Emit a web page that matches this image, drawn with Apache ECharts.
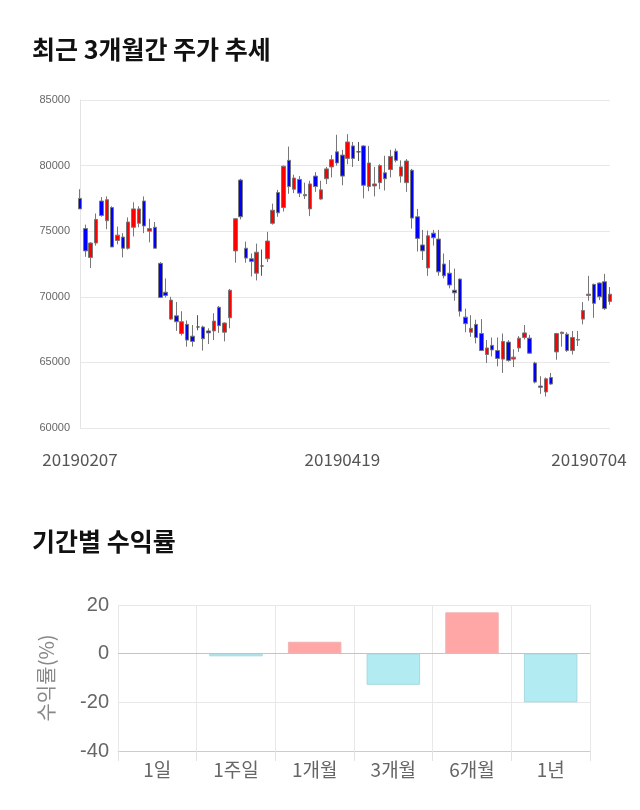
<!DOCTYPE html>
<html><head><meta charset="utf-8">
<script src="https://cdn.jsdelivr.net/npm/echarts@6/dist/echarts.min.js"></script>
<style>html,body{margin:0;padding:0;background:#fff}#c{width:640px;height:810px}</style>
</head><body><div id="c"></div>
<script>
const dates = ['20190207','20190211','20190212','20190213','20190214','20190215','20190218','20190219','20190220','20190221',
'20190222','20190225','20190226','20190227','20190228','20190304','20190305','20190306','20190307','20190308',
'20190311','20190312','20190313','20190314','20190315','20190318','20190319','20190320','20190321','20190322',
'20190325','20190326','20190327','20190328','20190329','20190401','20190402','20190403','20190404','20190405',
'20190408','20190409','20190410','20190411','20190412','20190415','20190416','20190417','20190418','20190419',
'20190422','20190423','20190424','20190425','20190426','20190429','20190430','20190503','20190507','20190508',
'20190509','20190510','20190513','20190514','20190515','20190516','20190517','20190520','20190521','20190522',
'20190523','20190524','20190527','20190528','20190529','20190530','20190531','20190603','20190604','20190605',
'20190607','20190610','20190611','20190612','20190613','20190614','20190617','20190618','20190619','20190620',
'20190621','20190624','20190625','20190626','20190627','20190628','20190701','20190702','20190703','20190704'];
const opens = [77500,75200,73000,74100,77300,75800,76800,74300,74550,73700,
75300,75600,77300,75000,75300,72550,70350,68300,68550,67200,
67900,67000,67700,67700,67400,67400,69200,67300,68400,73500,
78900,73700,72900,71800,72350,72900,75600,77950,76800,80400,
78200,78950,77700,76700,79200,77450,79000,79900,81050,80800,
80550,81500,81050,81500,78400,78450,78700,79450,79700,81100,
79200,78700,79650,76100,73950,72200,74850,74400,72500,71800,
70500,71350,68450,67300,67900,67200,65600,66300,65900,65250,
66550,65250,66100,66900,66850,64950,63200,62750,63850,65800,
67200,67150,65900,66750,68300,70100,70950,71050,71150,69650];
const closes = [76700,73500,74100,75900,76200,77400,73800,74700,73700,75700,
76700,76700,75400,75200,73700,69950,70100,69750,68100,68100,
66700,66600,67700,66800,67250,68150,67800,68000,70500,75950,
76100,72950,72700,73400,72350,74250,76600,76400,79950,78400,
79050,77900,77800,78600,78400,78150,79750,80450,80200,79200,
81800,80550,81050,78500,80200,78600,80000,79000,80700,80400,
79900,80350,76000,74450,73500,74650,74500,71900,71600,70900,
70300,68900,67950,67600,66900,65900,66100,65950,65300,66600,
65150,65400,66850,67250,65700,63500,63100,63750,63350,67200,
67300,65900,66900,66700,68950,70200,69500,70000,69100,70200];
const lows = [76700,73050,72200,73900,76100,75150,73800,74000,73000,73600,
74600,75300,74850,74150,73700,69900,69950,68250,67400,67050,
66200,66200,67450,65900,66400,66700,67250,66600,67600,72600,
75900,72600,71550,71250,71600,72650,75500,76100,76500,77850,
77900,77600,77450,76150,78000,77400,78600,79100,80000,78500,
80100,79900,80350,77500,78050,77650,78200,78100,79100,80250,
78700,78000,75200,73450,72800,71600,73900,71600,71400,70650,
69700,68500,67300,66950,66450,65900,64950,65450,64700,64200,
65050,64650,65800,66750,65650,63400,62600,62400,63300,65200,
66200,65800,65600,66250,67900,69700,68400,69750,69000,69400];
const highs = [78200,75500,74150,76350,77600,77650,76900,75350,74850,76050,
77200,76900,77650,75950,75700,72650,71400,70000,69600,68900,
68200,67850,68600,67800,67600,68750,69300,68050,70600,76000,
79000,74200,73300,74050,73600,74950,77100,78150,80000,81450,
79300,79200,78700,78850,79500,78850,79900,80800,82350,81200,
82400,81800,81800,81550,81500,79900,80100,80750,81200,81300,
80400,80500,79750,76700,75100,75050,75100,75100,73300,72800,
72150,71400,69100,68600,68250,68300,66700,66900,66900,67200,
66700,66000,67000,67850,67100,65050,63950,63850,64200,67250,
67350,67300,67400,67400,69600,71600,71000,71100,71750,70750];
const shownDates = ['20190207','20190419','20190704'];
const periods = ['1일','1주일','1개월','3개월','6개월','1년'];
const returns = [0, -1.1, 4.9, -12.8, 17.0, -20.0];

const candleData = dates.map((d, i) => [opens[i], closes[i], lows[i], highs[i]]);
const lastDate = shownDates[shownDates.length - 1];

const chart = echarts.init(document.getElementById('c'), null, {renderer: 'canvas'});
const KR = "'Noto Sans CJK KR', 'Noto Sans', sans-serif";
const LAT = "'Liberation Sans', Arial, sans-serif";
chart.setOption({
  animation: false,
  backgroundColor: '#fff',
  title: [
    {text: '최근 3개월간 주가 추세', left: 27, top: 32,
     textStyle: {fontSize: 25, fontWeight: 'bold', color: '#111', fontFamily: KR}},
    {text: '기간별 수익률', left: 27, top: 524,
     textStyle: {fontSize: 25, fontWeight: 'bold', color: '#111', fontFamily: KR}}
  ],
  grid: [
    {left: 80, right: 30, top: 100, height: 328},
    {left: 118, right: 50, top: 605, height: 146}
  ],
  xAxis: [
    {type: 'category', gridIndex: 0, data: dates, boundaryGap: false,
     axisLine: {show: false}, axisTick: {show: false}, splitLine: {show: false},
     axisLabel: {
       interval: (i, v) => shownDates.indexOf(v) >= 0,
       fontSize: 17, color: '#555', margin: 23, fontFamily: KR,
       formatter: v => v === lastDate ? '{r|' + v + '}' : v,
       rich: {r: {fontSize: 17, color: '#555', fontFamily: KR, padding: [0, 42, 0, 0]}}
     }},
    {type: 'category', gridIndex: 1, data: periods, boundaryGap: true,
     axisLine: {show: true, onZero: false, lineStyle: {color: '#ccc'}},
     axisTick: {show: true, length: 10, lineStyle: {color: '#e2e2e2'}},
     splitLine: {show: true, lineStyle: {color: '#e8e8e8'}},
     axisLabel: {fontSize: 19, color: '#666', margin: 9, fontFamily: KR}}
  ],
  yAxis: [
    {type: 'value', gridIndex: 0, min: 60000, max: 85000, interval: 5000,
     axisLine: {show: true, lineStyle: {color: '#e4e4e4'}}, axisTick: {show: false},
     splitLine: {lineStyle: {color: '#e8e8e8'}},
     axisLabel: {fontSize: 11, color: '#666', margin: 10, fontFamily: LAT, formatter: v => String(v)}},
    {type: 'value', gridIndex: 1, min: -40, max: 20, interval: 20,
     axisLine: {show: false}, axisTick: {show: false},
     splitLine: {lineStyle: {color: '#e8e8e8'}},
     axisLabel: {fontSize: 20, color: '#666', margin: 9, fontFamily: LAT},
     name: '수익률(%)', nameLocation: 'middle', nameGap: 62,
     nameTextStyle: {fontSize: 20, color: '#888', fontFamily: KR}}
  ],
  series: [
    {type: 'candlestick', xAxisIndex: 0, yAxisIndex: 0, data: candleData, barWidth: 4, clip: true,
     itemStyle: {color: '#ff0000', color0: '#0000ff', borderColor: '#777', borderColor0: '#777', borderColorDoji: '#555', borderWidth: 1}},
    {type: 'bar', xAxisIndex: 1, yAxisIndex: 1, barWidth: '68%',
     data: returns.map(v => ({value: v, itemStyle: v >= 0
       ? {color: '#ffa6a6', borderColor: '#f3b3b3', borderWidth: v === 0 ? 0 : 1}
       : {color: '#b2ebf2', borderColor: '#a6d8e0', borderWidth: 1}})),
     markLine: {silent: true, symbol: 'none', label: {show: false},
       lineStyle: {color: '#c4c4c4', type: 'solid', width: 1}, data: [{yAxis: 0}]}}
  ]
});
</script></body></html>
